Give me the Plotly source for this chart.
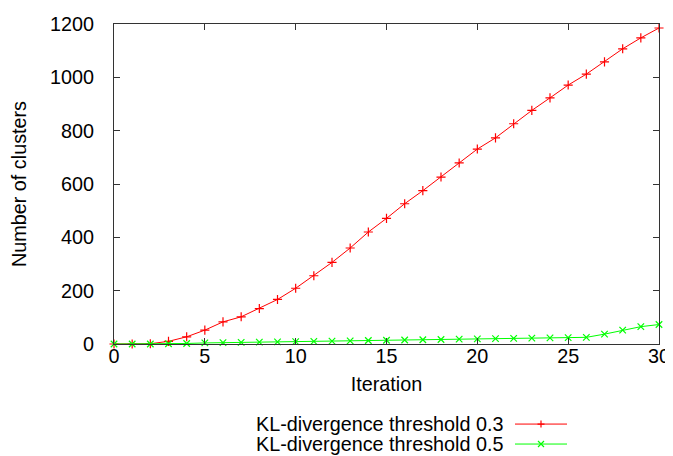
import plotly.graph_objects as go

iterations = list(range(31))
kl_03 = [0, 0, 1, 10, 27, 52, 83, 102, 133, 167, 209, 256, 306, 360, 420, 471,
         526, 575, 626, 679, 731, 773, 826, 876, 923, 971, 1012, 1058, 1107, 1148, 1185]
kl_05 = [0, 0, 0, 1, 2, 4, 5, 6, 7, 8, 9, 10, 11, 12, 13, 14,
         15, 16, 17, 18, 19, 20, 21, 22, 23, 24, 25, 37, 52, 65, 73]
series_names = ["KL-divergence threshold 0.3", "KL-divergence threshold 0.5"]
colors = ["#ff0000", "#00ff00"]
symbols = ["cross-thin", "x-thin"]
x_ticks = [0, 5, 10, 15, 20, 25, 30]
y_ticks = [0, 200, 400, 600, 800, 1000, 1200]

FONT = "Liberation Sans, Arial, sans-serif"
FS = 19.8
W, H = 673, 456
L, R, T, B = 106, 22, 16, 119.5
PW, PH = W - L - R, H - T - B


def px(x):
    return (x - L) / PW


def py(y):
    return (H - B - y) / PH


fig = go.Figure()
for name, ys, c, s in zip(series_names, [kl_03, kl_05], colors, symbols):
    fig.add_trace(go.Scatter(
        x=iterations, y=ys, mode="lines+markers", name=name,
        line=dict(color=c, width=1),
        marker=dict(symbol=s, size=6.5, color=c, line=dict(color=c, width=1.2)),
        showlegend=False, cliponaxis=False))

# gnuplot-style key: text on the left, sample on the right
leg_y = [416.7, 436.7]
for name, ly, c, s in zip(series_names, leg_y, colors, symbols):
    fig.add_shape(type="line", xref="paper", yref="paper",
                  x0=px(507), x1=px(559), y0=py(ly), y1=py(ly),
                  line=dict(color=c, width=1))
    if s == "cross-thin":
        path = (f"M {px(533)},{py(ly - 3.5)} L {px(533)},{py(ly + 3.5)} "
                f"M {px(529.5)},{py(ly)} L {px(536.5)},{py(ly)}")
    else:
        path = (f"M {px(530)},{py(ly - 3)} L {px(536)},{py(ly + 3)} "
                f"M {px(530)},{py(ly + 3)} L {px(536)},{py(ly - 3)}")
    fig.add_shape(type="path", xref="paper", yref="paper", path=path,
                  line=dict(color=c, width=1.2))
    fig.add_annotation(x=px(497), y=py(ly), xref="paper", yref="paper", text=name,
                       showarrow=False, xanchor="right", yanchor="middle",
                       font=dict(family=FONT, size=FS, color="black"))

axis_common = dict(showgrid=False, zeroline=False, showline=True, linecolor="#333",
                   linewidth=1, mirror="ticks", ticks="inside", ticklen=6,
                   tickcolor="#333", automargin=False,
                   tickfont=dict(family=FONT, size=FS, color="black"))

fig.update_layout(
    width=W, height=H,
    margin=dict(l=L, r=R, t=T, b=B),
    plot_bgcolor="white", paper_bgcolor="white",
    xaxis=dict(range=[0, 30], tickvals=x_ticks, ticklabelstandoff=-6,
               title=dict(text="Iteration", font=dict(family=FONT, size=FS, color="black"), standoff=11),
               **axis_common),
    yaxis=dict(range=[0, 1200], tickvals=y_ticks, ticklabelstandoff=15,
               title=dict(text="Number of clusters", font=dict(family=FONT, size=FS, color="black"), standoff=21),
               **axis_common),
)
fig.write_html("out.html")
